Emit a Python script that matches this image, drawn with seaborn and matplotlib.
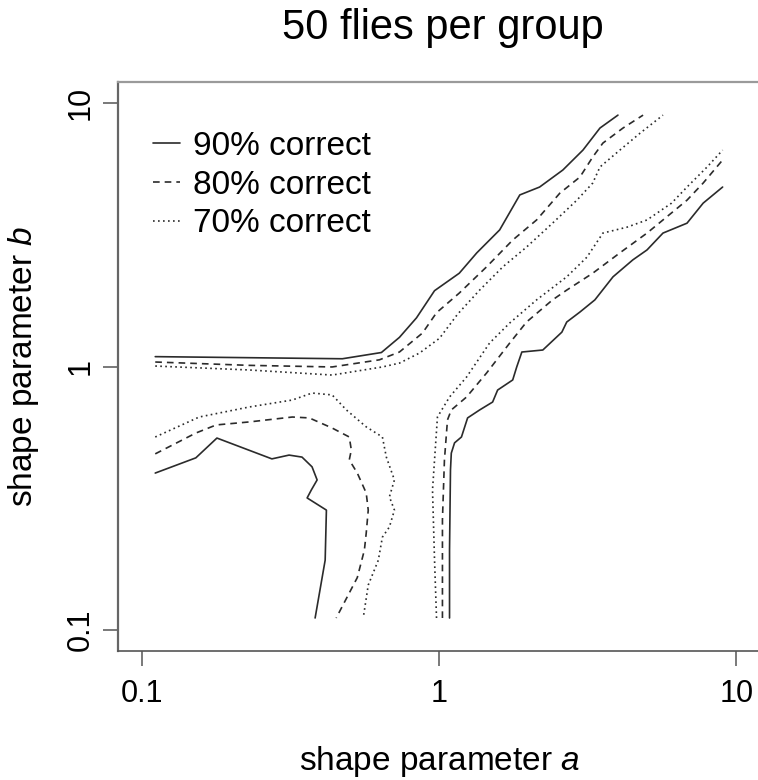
import matplotlib
matplotlib.use("Agg")
import matplotlib.pyplot as plt
from matplotlib.lines import Line2D
from matplotlib.ticker import NullLocator
import pandas as pd
import seaborn as sns

# Decision-accuracy contour levels
levels = ["90% correct", "80% correct", "70% correct"]

# Axis ticks (log scale on both axes)
tick_values = [0.1, 1, 10]
tick_labels = ["0.1", "1", "10"]

# 90% contour: three separate pieces (a = shape a, b = shape b)
a90_upper = [0.111, 0.230, 0.473, 0.640, 0.736, 0.840, 0.966, 1.17, 1.34, 1.60,
             1.87, 2.18, 2.61, 3.05, 3.48, 4.00]
b90_upper = [1.09, 1.08, 1.07, 1.13, 1.29, 1.53, 1.94, 2.26, 2.70, 3.30,
             4.48, 4.80, 5.57, 6.63, 8.04, 9.0]
a90_right = [1.085, 1.085, 1.093, 1.10, 1.128, 1.19, 1.248, 1.37, 1.515, 1.575,
             1.77, 1.826, 1.90, 2.235, 2.59, 2.69, 2.98, 3.345, 3.85, 4.49,
             5.01, 5.67, 6.83, 7.74, 9.0]
b90_right = [0.111, 0.201, 0.405, 0.469, 0.513, 0.540, 0.638, 0.684, 0.733, 0.814,
             0.889, 0.996, 1.135, 1.155, 1.35, 1.475, 1.61, 1.79, 2.19, 2.54,
             2.77, 3.21, 3.50, 4.17, 4.80]
a90_loop = [0.111, 0.152, 0.179, 0.274, 0.313, 0.346, 0.374, 0.389, 0.372, 0.360,
            0.418, 0.414, 0.383]
b90_loop = [0.394, 0.450, 0.535, 0.446, 0.461, 0.453, 0.416, 0.371, 0.340, 0.317,
            0.285, 0.184, 0.111]

# 80% contour
a80_upper = [0.111, 0.230, 0.437, 0.630, 0.736, 0.880, 0.981, 1.17, 1.446, 1.77,
             2.13, 2.55, 2.98, 3.29, 3.56, 4.16, 4.86]
b80_upper = [1.04, 1.01, 0.996, 1.06, 1.135, 1.34, 1.60, 1.90, 2.39, 3.02,
             3.60, 4.55, 5.24, 6.24, 7.05, 8.04, 9.0]
a80_right = [1.027, 1.027, 1.043, 1.068, 1.10, 1.238, 1.446, 1.73, 1.97, 2.41,
             2.69, 3.29, 4.06, 5.01, 5.67, 6.83, 7.74, 9.0]
b80_right = [0.111, 0.2615, 0.442, 0.627, 0.684, 0.766, 0.945, 1.228, 1.475, 1.79,
             1.95, 2.26, 2.70, 3.21, 3.60, 4.28, 4.97, 6.08]
a80_loop = [0.111, 0.152, 0.178, 0.230, 0.321, 0.366, 0.437, 0.499, 0.507, 0.499,
            0.531, 0.569, 0.578, 0.569, 0.561, 0.531, 0.451]
b80_loop = [0.466, 0.559, 0.600, 0.616, 0.643, 0.638, 0.584, 0.540, 0.482, 0.442,
            0.394, 0.331, 0.285, 0.233, 0.201, 0.158, 0.111]

# 70% contour
a70_upper = [0.111, 0.230, 0.437, 0.645, 0.736, 0.860, 1.004, 1.155, 1.37, 1.64,
             1.97, 2.41, 2.91, 3.29, 3.48, 4.06, 4.75, 5.67]
b70_upper = [1.004, 0.970, 0.928, 0.996, 1.03, 1.125, 1.28, 1.58, 1.95, 2.39,
             2.84, 3.50, 4.28, 4.97, 5.72, 6.63, 7.69, 9.0]
a70_right = [0.981, 0.966, 0.951, 0.988, 1.085, 1.238, 1.48, 1.73, 2.13, 2.69,
             3.145, 3.56, 4.29, 5.01, 6.06, 6.83, 7.98, 9.0]
b70_right = [0.111, 0.184, 0.340, 0.643, 0.766, 0.912, 1.228, 1.463, 1.79, 2.19,
             2.60, 3.21, 3.38, 3.60, 4.17, 4.80, 5.72, 6.63]
a70_loop = [0.111, 0.156, 0.230, 0.321, 0.374, 0.437, 0.488, 0.569, 0.645, 0.665,
            0.708, 0.681, 0.708, 0.681, 0.645, 0.625, 0.578, 0.556]
b70_loop = [0.540, 0.643, 0.702, 0.746, 0.793, 0.780, 0.684, 0.590, 0.540, 0.453,
            0.371, 0.320, 0.285, 0.246, 0.225, 0.184, 0.148, 0.111]

pieces = [
    ("90% correct", "90 upper", a90_upper, b90_upper),
    ("90% correct", "90 right", a90_right, b90_right),
    ("90% correct", "90 loop", a90_loop, b90_loop),
    ("80% correct", "80 upper", a80_upper, b80_upper),
    ("80% correct", "80 right", a80_right, b80_right),
    ("80% correct", "80 loop", a80_loop, b80_loop),
    ("70% correct", "70 upper", a70_upper, b70_upper),
    ("70% correct", "70 right", a70_right, b70_right),
    ("70% correct", "70 loop", a70_loop, b70_loop),
]
rows = []
for level, piece, xs, ys in pieces:
    for i, (x, y) in enumerate(zip(xs, ys)):
        rows.append({"level": level, "piece": piece, "order": i, "a": x, "b": y})
df = pd.DataFrame(rows)

line_dashes = {"90% correct": "", "80% correct": (4, 3), "70% correct": (1, 2)}
line_color = "#2b2b2b"
line_width = 1.2

sns.set_theme(style="white")
plt.rcParams["font.family"] = ["Liberation Sans", "DejaVu Sans"]
plt.rcParams["mathtext.fontset"] = "custom"
plt.rcParams["mathtext.rm"] = "Liberation Sans"
plt.rcParams["mathtext.it"] = "Liberation Sans:italic"
plt.rcParams["text.color"] = "black"
plt.rcParams["axes.labelcolor"] = "black"

fig = plt.figure(figsize=(7.58, 7.80), dpi=100)
fig.patch.set_facecolor("white")
ax = fig.add_axes([118 / 758, 129 / 780, 642 / 758, 569 / 780])
ax.set_facecolor("white")
ax.set_xscale("log")
ax.set_yscale("log")

sns.lineplot(data=df, x="a", y="b", units="piece", style="level",
             style_order=levels, dashes=line_dashes, estimator=None, sort=False,
             color=line_color, linewidth=line_width, legend=False, ax=ax)

lo, hi = 10 ** -1.08, 10 ** 1.08
ax.set_xlim(lo, hi)
ax.set_ylim(lo, hi)

ax.set_xticks(tick_values)
ax.set_xticklabels(tick_labels)
ax.set_yticks(tick_values)
ax.set_yticklabels(tick_labels)
ax.xaxis.set_minor_locator(NullLocator())
ax.yaxis.set_minor_locator(NullLocator())

ax.tick_params(axis="both", which="major", direction="out", length=10.8,
               width=1.1, color="#555555", labelsize=22, labelcolor="black",
               bottom=True, left=True, top=False, right=False)
ax.tick_params(axis="x", pad=9)
ax.tick_params(axis="y", pad=5)
plt.setp(ax.get_yticklabels(), rotation=90, va="center", ha="right")

for side in ax.spines:
    ax.spines[side].set_visible(True)
ax.spines["right"].set_visible(False)
ax.spines["top"].set_color("#9a9a9a")
ax.spines["top"].set_linewidth(1.6)
ax.spines["left"].set_color("#666666")
ax.spines["left"].set_linewidth(1.6)
ax.spines["bottom"].set_color("#555555")
ax.spines["bottom"].set_linewidth(1.2)

ax.set_xlabel("shape parameter $\\mathit{a}$", fontsize=24)
ax.xaxis.label.set_va("baseline")
ax.xaxis.set_label_coords((439.5 - 118) / 642, (651 - 770) / 569)
ax.set_ylabel("shape parameter $\\mathit{b}$", fontsize=24)
ax.yaxis.label.set_rotation_mode("anchor")
ax.yaxis.label.set_ha("center")
ax.yaxis.label.set_va("baseline")
ax.yaxis.set_label_coords((32 - 118) / 642, 0.5)

ax.set_title("50 flies per group", fontsize=30, pad=0, color="black",
             x=(443 - 118) / 642, y=(651 - 39) / 569, va="baseline")

handles = []
for level in levels:
    d = line_dashes[level]
    ls = (0, d) if d else "-"
    handles.append(Line2D([], [], color=line_color, lw=line_width, linestyle=ls))
ax.legend(handles, levels, loc="upper left",
          bbox_to_anchor=((153 - 118) / 642, (651 - 131) / 569),
          frameon=False, fontsize=24, handlelength=0.8, handletextpad=0.4,
          labelspacing=0.23, borderpad=0, borderaxespad=0)

fig.savefig("out.png", dpi=100, facecolor="white")
